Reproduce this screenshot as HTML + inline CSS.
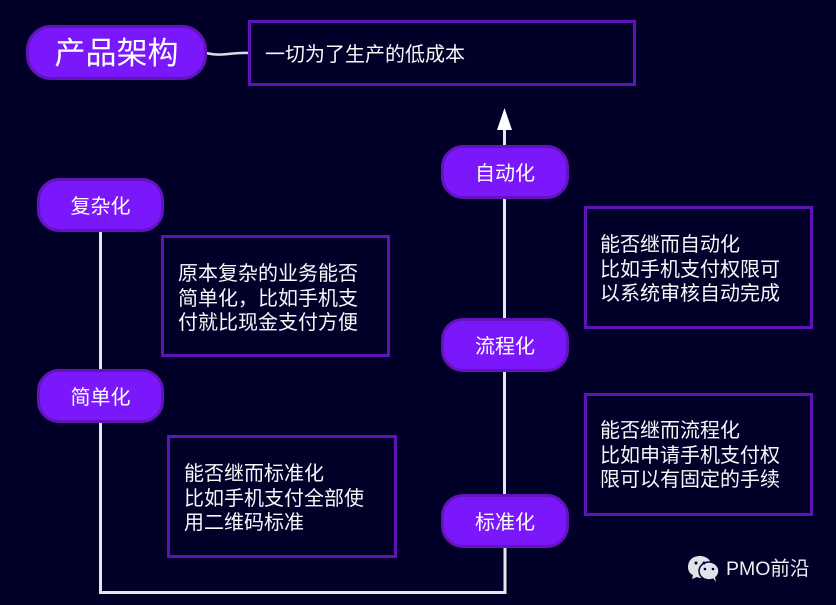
<!DOCTYPE html>
<html lang="zh">
<head>
<meta charset="utf-8">
<style>
html,body{margin:0;padding:0;background:#000029}
#c{position:relative;width:836px;height:605px;overflow:hidden;background:#000029;color:#fff;font-family:"Liberation Sans","Noto Sans CJK SC",sans-serif}
.p{position:absolute;box-sizing:border-box;background:#7b18fb;border:3px solid #6414bd;text-align:center;font-size:20px;color:#fff;width:127px;height:54px;border-radius:22px;line-height:52px;white-space:nowrap}
.b{position:absolute;box-sizing:border-box;border:3px solid #5e12b8;width:230px;height:123px}
.t{position:absolute;font-size:20px;line-height:24.600px;color:#f8f8fb;white-space:nowrap}
svg{position:absolute;left:0;top:0}
</style>
</head>
<body>
<div id="c">
<svg width="836" height="605">
<path d="M100.500 228V592.500H505V548" fill="none" stroke="#e6e6ee" stroke-width="3"/>
<path d="M504.500 494V128" fill="none" stroke="#e6e6ee" stroke-width="3"/>
<path d="M497 130L504.500 108L512 130Z" fill="#fff"/>
<path d="M206 53C222 57 232 52 249 53" fill="none" stroke="#dcdce4" stroke-width="2.500"/>
</svg>
<div class="p" style="left:26px;top:25px;width:181px;height:55px;border-radius:25px;font-size:31px;line-height:52px">产品架构</div>
<div class="b" style="left:248px;top:20px;width:388px;height:66px"></div>
<div class="t" style="left:265px;top:43px">一切为了生产的低成本</div>
<div class="p" style="left:37px;top:178px">复杂化</div>
<div class="p" style="left:37px;top:369px">简单化</div>
<div class="p" style="left:441px;top:145px;width:128px">自动化</div>
<div class="p" style="left:441px;top:318px;width:128px">流程化</div>
<div class="p" style="left:441px;top:494px;width:128px;line-height:53px">标准化</div>
<div class="b" style="left:161px;top:235px;width:229px;height:122px"></div>
<div class="t" style="left:178px;top:262px">原本复杂的业务能否<br>简单化，比如手机支<br>付就比现金支付方便</div>
<div class="b" style="left:167px;top:435px"></div>
<div class="t" style="left:184px;top:462px">能否继而标准化<br>比如手机支付全部使<br>用二维码标准</div>
<div class="b" style="left:584px;top:206px;width:229px"></div>
<div class="t" style="left:600px;top:233px">能否继而自动化<br>比如手机支付权限可<br>以系统审核自动完成</div>
<div class="b" style="left:584px;top:393px;width:229px"></div>
<div class="t" style="left:600px;top:419px">能否继而流程化<br>比如申请手机支付权<br>限可以有固定的手续</div>
<svg width="836" height="605">
<g fill="#e2e2ea">
<path d="M700 556C692 556 688 561 688 567C688 571 690 574 693 575L692 579L697 577C699 578 701 578 702 578C707 578 712 574 712 567C712 561 707 556 700 556Z"/>
<ellipse cx="709" cy="571" rx="10" ry="9" stroke="#000029" stroke-width="1.500"/>
<path d="M713 578L716 582L715 577Z"/>
</g>
<g fill="#000029">
<circle cx="696" cy="563" r="1.500"/><circle cx="704" cy="563" r="1.500"/>
<circle cx="705" cy="569" r="1.300"/><circle cx="713" cy="569" r="1.300"/>
</g>
</svg>
<div class="t" style="left:726px;top:557px;font-size:19.500px;line-height:24px;color:#eeeef2">PMO前沿</div>
</div>
</body>
</html>
